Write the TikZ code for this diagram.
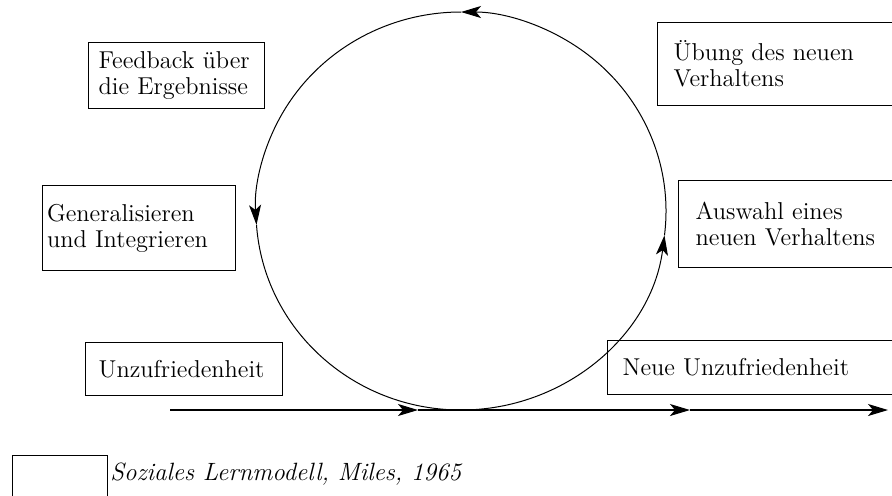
\documentclass[tikz,border=0pt]{standalone}
\usetikzlibrary{arrows.meta}
\tikzset{
  box/.style={draw, line width=0.6pt, align=left, anchor=north west,
    inner xsep=7.5pt, inner ysep=0pt},
  loop/.style={line width=0.5pt},
}
\begin{document}
\begin{tikzpicture}[x=0.5pt, y=-0.5pt, >={Stealth[length=10pt, width=6pt, inset=2.5pt]},
  every node/.style={font=\fontsize{12.2}{13}\selectfont}]
  \useasboundingbox (0,0) rectangle (892,495);
  \clip (0,0) rectangle (892,495);
  % Kreis
  \coordinate (c) at (461,211);
  \draw[loop, ->] (c) ++(90:205 and 199) arc[start angle=90, end angle=7, x radius=205, y radius=199];
  \draw[loop, ->] (c) ++(7:205 and 199) arc[start angle=7, end angle=-90, x radius=205, y radius=199];
  \draw[loop, ->] (c) ++(-90:205 and 199) arc[start angle=-90, end angle=-184, x radius=205, y radius=199];
  \draw[loop] (c) ++(-184:205 and 199) arc[start angle=-184, end angle=-270, x radius=205, y radius=199];
  % Kaestchen
  \node[box, inner xsep=5pt, text width=78pt, minimum height=33pt] (feedback) at (88,42) {Feedback über\\die Ergebnisse};
  \node[box, inner xsep=8pt, text width=110pt, minimum height=41.5pt] (uebung) at (657,22) {Übung des neuen\\Verhaltens};
  \node[box, inner xsep=2.25pt, text width=92pt, minimum height=42.5pt] (general) at (42,185) {Generalisieren\\und Integrieren};
  \node[box, inner xsep=8.5pt, text width=99pt, minimum height=43.5pt] (auswahl) at (678,180) {Auswahl eines\\neuen Verhaltens};
  \node[box, inner xsep=6.5pt, text width=85.5pt, minimum height=26.5pt] (unzuf) at (85,342) {Unzufriedenheit};
  \node[box, text width=136.5pt, minimum height=27pt] (neue) at (607,340) {Neue Unzufriedenheit};
  % Zeitachse
  \coordinate (start) at (170,410);
  \coordinate (p1) at (418,410);
  \coordinate (p2) at (690,410);
  \coordinate (end) at (888,410);
  \draw[line width=0.6pt, ->] (start) -- (p1);
  \draw[line width=0.6pt, ->] (p1) -- (p2);
  \draw[line width=0.6pt, ->] (p2) -- (end);
  % Legende
  \node[box, inner sep=0pt, minimum width=47.5pt, minimum height=40pt] (legbox) at (12,455) {};
  \node[anchor=west, inner sep=0pt, font=\fontsize{12.5}{14}\selectfont\itshape] (legend) at (110,474) {Soziales Lernmodell, Miles, 1965};
\end{tikzpicture}
\end{document}
